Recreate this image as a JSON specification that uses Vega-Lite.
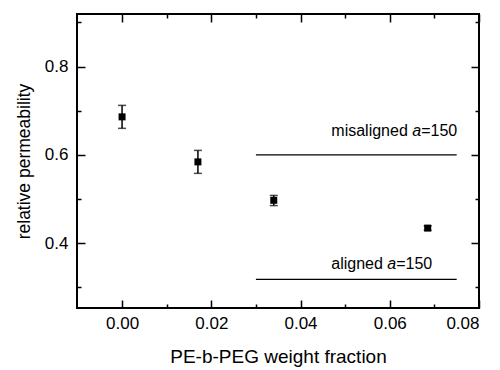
{
  "$schema": "https://vega.github.io/schema/vega-lite/v6.json",
  "width": 402,
  "height": 294,
  "autosize": "none",
  "padding": {"left": 77, "top": 14, "right": 21, "bottom": 62},
  "config": {
    "font": "Liberation Sans",
    "view": {"stroke": "black", "strokeWidth": 2},
    "axis": {
      "grid": false,
      "domain": false,
      "tickColor": "black",
      "tickWidth": 1.5,
      "labelColor": "black",
      "titleColor": "black",
      "titleFontWeight": "normal",
      "labelFont": "Liberation Sans",
      "titleFont": "Liberation Sans"
    }
  },
  "datasets": {
    "points": [
      {"fraction": 0.0, "perm": 0.686, "lo": 0.660, "hi": 0.712},
      {"fraction": 0.017, "perm": 0.584, "lo": 0.558, "hi": 0.610},
      {"fraction": 0.034, "perm": 0.497, "lo": 0.485, "hi": 0.508},
      {"fraction": 0.0685, "perm": 0.434, "lo": 0.429, "hi": 0.439}
    ],
    "lines": [
      {"name": "misaligned", "x1": 0.030, "x2": 0.075, "level": 0.600},
      {"name": "aligned", "x1": 0.030, "x2": 0.075, "level": 0.318}
    ],
    "plain": [
      {"text": "misaligned ", "tx": 0.0469, "ty": 0.643},
      {"text": "=150", "tx": 0.06705, "ty": 0.643},
      {"text": "aligned ", "tx": 0.0469, "ty": 0.342},
      {"text": "=150", "tx": 0.06143, "ty": 0.342}
    ],
    "italic": [
      {"text": "a", "tx": 0.06504, "ty": 0.643},
      {"text": "a", "tx": 0.05946, "ty": 0.342}
    ]
  },
  "layer": [
    {
      "data": {"name": "points"},
      "mark": {"type": "errorbar", "ticks": {"size": 8, "thickness": 1.5, "color": "black"}, "rule": {"strokeWidth": 1.5, "color": "black"}},
      "encoding": {
        "x": {
          "field": "fraction", "type": "quantitative",
          "scale": {"domain": [-0.0101, 0.08], "nice": false, "zero": false},
          "axis": {
            "orient": "bottom",
            "values": [0, 0.01, 0.02, 0.03, 0.04, 0.05, 0.06, 0.07, 0.08],
            "labelExpr": "round(datum.value*100) % 2 == 0 ? format(datum.value, '.2f') : ''",
            "tickSize": {"condition": {"test": "round(datum.value*100) % 2 == 0", "value": -8}, "value": -4},
            "labelFontSize": 17,
            "labelPadding": 15,
            "title": "PE-b-PEG weight fraction",
            "titleFontSize": 19,
            "titlePadding": 16
          }
        },
        "y": {
          "field": "lo", "type": "quantitative",
          "scale": {"domain": [0.253, 0.919], "nice": false, "zero": false},
          "axis": {
            "orient": "left",
            "values": [0.3, 0.4, 0.5, 0.6, 0.7, 0.8, 0.9],
            "labelExpr": "round(datum.value*10) % 2 == 0 ? format(datum.value, '.1f') : ''",
            "tickSize": {"condition": {"test": "round(datum.value*10) % 2 == 0", "value": -8}, "value": -4},
            "labelFontSize": 17,
            "labelPadding": 17,
            "title": "relative permeability",
            "titleFontSize": 17.5,
            "titlePadding": 11
          }
        },
        "y2": {"field": "hi"}
      }
    },
    {
      "data": {"name": "points"},
      "mark": {"type": "point", "shape": "square", "filled": true, "size": 49, "color": "black", "opacity": 1},
      "encoding": {
        "x": {
          "field": "fraction", "type": "quantitative",
          "axis": {
            "orient": "top",
            "values": [0, 0.01, 0.02, 0.03, 0.04, 0.05, 0.06, 0.07, 0.08],
            "labels": false,
            "title": null,
            "tickSize": {"condition": {"test": "round(datum.value*100) % 2 == 0", "value": -8}, "value": -4}
          }
        },
        "y": {
          "field": "perm", "type": "quantitative",
          "axis": {
            "orient": "right",
            "values": [0.3, 0.4, 0.5, 0.6, 0.7, 0.8, 0.9],
            "labels": false,
            "title": null,
            "tickSize": {"condition": {"test": "round(datum.value*10) % 2 == 0", "value": -8}, "value": -4}
          }
        }
      }
    },
    {
      "data": {"name": "lines"},
      "mark": {"type": "rule", "color": "black", "strokeWidth": 1.3},
      "encoding": {
        "x": {"field": "x1", "type": "quantitative", "axis": null},
        "x2": {"field": "x2"},
        "y": {"field": "level", "type": "quantitative", "axis": null}
      }
    },
    {
      "data": {"name": "plain"},
      "mark": {"type": "text", "align": "left", "baseline": "alphabetic", "fontSize": 16, "color": "black"},
      "encoding": {
        "x": {"field": "tx", "type": "quantitative", "axis": null},
        "y": {"field": "ty", "type": "quantitative", "axis": null},
        "text": {"field": "text"}
      }
    },
    {
      "data": {"name": "italic"},
      "mark": {"type": "text", "align": "left", "baseline": "alphabetic", "fontSize": 16, "fontStyle": "italic", "color": "black"},
      "encoding": {
        "x": {"field": "tx", "type": "quantitative", "axis": null},
        "y": {"field": "ty", "type": "quantitative", "axis": null},
        "text": {"field": "text"}
      }
    }
  ],
  "resolve": {"axis": {"x": "independent", "y": "independent"}}
}
